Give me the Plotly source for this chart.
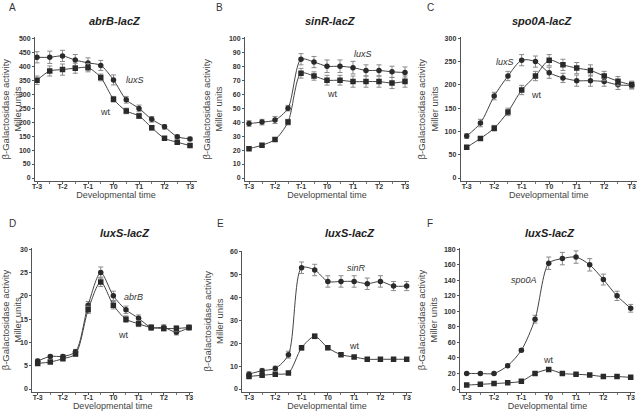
import plotly.graph_objects as go

W, H = 640, 412

time_points = [-3, -2.5, -2, -1.5, -1, -0.5, 0, 0.5, 1, 1.5, 2, 2.5, 3]
tick_vals = [-3, -2, -1, 0, 1, 2, 3]
tick_labels = ["T-3", "T-2", "T-1", "T0", "T1", "T2", "T3"]

# Panel A: abrB-lacZ
a_luxs = [432, 432, 437, 422, 412, 403, 351, 280, 249, 210, 183, 148, 140]
a_luxs_err = [20, 22, 20, 20, 18, 18, 18, 12, 12, 10, 8, 6, 6]
a_wt = [350, 383, 388, 393, 395, 360, 282, 240, 222, 180, 142, 128, 116]
a_wt_err = [15, 18, 20, 18, 15, 12, 10, 10, 8, 8, 6, 5, 5]

# Panel B: sinR-lacZ
b_luxs = [39, 40, 41.5, 50, 85, 83, 80, 80, 79, 77, 77, 76, 75.5]
b_luxs_err = [2, 2, 2.5, 2, 4, 4, 4.5, 4.5, 4.5, 4, 4, 4, 4]
b_wt = [21, 23.5, 27.5, 40, 75, 73, 70, 70, 69, 69, 69, 68, 69]
b_wt_err = [1, 1, 1, 2, 3.5, 3, 3.5, 3.5, 4, 4, 4, 4, 4]

# Panel C: spo0A-lacZ
c_luxs = [90, 118, 176, 219, 253, 250, 226, 215, 209, 209, 207, 200, 199]
c_luxs_err = [5, 8, 8, 10, 12, 12, 12, 10, 12, 12, 10, 10, 8]
c_wt = [66, 85, 107, 142, 189, 219, 253, 243, 236, 231, 219, 208, 200]
c_wt_err = [4, 4, 6, 8, 10, 10, 12, 12, 12, 12, 10, 10, 8]

# Panel D: luxS-lacZ (abrB)
d_abrb = [6.0, 7.0, 7.0, 8.0, 18.0, 25.0, 20.0, 17.0, 15.2, 13.2, 13.2, 12.2, 13.2]
d_abrb_err = [0.4, 0.3, 0.4, 0.5, 0.8, 1.2, 1.0, 0.8, 0.7, 0.6, 0.6, 0.6, 0.5]
d_wt = [5.5, 5.8, 6.5, 7.5, 17.0, 23.0, 18.0, 15.0, 14.0, 13.2, 13.0, 13.0, 13.2]
d_wt_err = [0.3, 0.3, 0.3, 0.4, 0.8, 1.0, 0.8, 0.7, 0.6, 0.5, 0.5, 0.6, 0.5]

# Panel E: luxS-lacZ (sinR)
e_sinr = [6.5, 8, 9, 15, 53, 52, 47, 47, 47, 46, 47, 45, 45]
e_sinr_err = [1, 1, 1, 1.5, 2.5, 2.5, 2.5, 2.5, 2.5, 2.5, 2.5, 2, 2]
e_wt = [5.5, 6, 6.5, 7, 18, 23, 18, 15, 14, 13, 13, 13, 13]
e_wt_err = [0.5, 0.5, 0.5, 0.5, 1, 1, 0.8, 0.6, 0.6, 0.5, 0.5, 0.5, 0.5]

# Panel F: luxS-lacZ (spo0A)
f_spo0a = [20, 20, 20, 30, 50, 90, 162, 168, 170, 160, 141, 120, 104]
f_spo0a_err = [1.5, 1.5, 1.5, 2, 2, 5, 8, 8, 8, 8, 7, 6, 5]
f_wt = [5, 6, 7, 8, 10, 20, 25, 20, 19, 18, 16, 16, 15]
f_wt_err = [1, 1, 1, 1, 1, 1.5, 2, 1.5, 1.5, 1.5, 1.5, 1.5, 1.5]

panels = [
    dict(letter="A", title="abrB-lacZ", mut=a_luxs, mut_err=a_luxs_err, wt=a_wt, wt_err=a_wt_err,
         mut_name="luxS", mut_lab=(0.85, 350), wt_lab=(-0.3, 237),
         ytick=50, ymax=500, yaxis_px=35, xend_px=197, t3m_px=37, t3_px=190,
         y0_px=178, ymax_px=38.3, xaxis_px=181, letter_px=(7, 8), title_px=(115, 21)),
    dict(letter="B", title="sinR-lacZ", mut=b_luxs, mut_err=b_luxs_err, wt=b_wt, wt_err=b_wt_err,
         mut_name="luxS", mut_lab=(1.4, 89), wt_lab=(0.2, 60),
         ytick=10, ymax=100, yaxis_px=245, xend_px=409, t3m_px=249, t3_px=405,
         y0_px=178, ymax_px=38.3, xaxis_px=181, letter_px=(214, 8), title_px=(330, 21)),
    dict(letter="C", title="spo0A-lacZ", mut=c_luxs, mut_err=c_luxs_err, wt=c_wt, wt_err=c_wt_err,
         mut_name="luxS", mut_lab=(-1.62, 250), wt_lab=(-0.45, 178),
         ytick=50, ymax=300, yaxis_px=460.7, xend_px=636.7, t3m_px=466.7, t3_px=631.7,
         y0_px=178, ymax_px=38.3, xaxis_px=181, letter_px=(425, 8), title_px=(542, 21)),
    dict(letter="D", title="luxS-lacZ", mut=d_abrb, mut_err=d_abrb_err, wt=d_wt, wt_err=d_wt_err,
         mut_name="abrB", mut_lab=(0.8, 19.8), wt_lab=(0.4, 11.6),
         ytick=5, ymax=30, yaxis_px=32.3, xend_px=193, t3m_px=37.7, t3_px=189,
         y0_px=389, ymax_px=249.3, xaxis_px=391.7, letter_px=(7, 223), title_px=(125, 233)),
    dict(letter="E", title="luxS-lacZ", mut=e_sinr, mut_err=e_sinr_err, wt=e_wt, wt_err=e_wt_err,
         mut_name="sinR", mut_lab=(1.1, 52.7), wt_lab=(1.0, 18.8),
         ytick=10, ymax=60, yaxis_px=242.3, xend_px=411.7, t3m_px=249, t3_px=406.7,
         y0_px=389, ymax_px=251.7, xaxis_px=391.7, letter_px=(215, 223), title_px=(350, 233)),
    dict(letter="F", title="luxS-lacZ", mut=f_spo0a, mut_err=f_spo0a_err, wt=f_wt, wt_err=f_wt_err,
         mut_name="spo0A", mut_lab=(-0.9, 140), wt_lab=(0.0, 38),
         ytick=20, ymax=180, yaxis_px=460, xend_px=635, t3m_px=466.7, t3_px=630.7,
         y0_px=389, ymax_px=249.3, xaxis_px=391.7, letter_px=(425, 223), title_px=(550, 233)),
]

fig = go.Figure()
DARK = "#2a2a2a"
LINE = "#444444"
ERR = "#8a8a8a"
FONT = "Liberation Sans"
annotations = []
layout_axes = {}

for i, p in enumerate(panels, start=1):
    xa = "x" if i == 1 else f"x{i}"
    ya = "y" if i == 1 else f"y{i}"
    ppu_x = (p["t3_px"] - p["t3m_px"]) / 6.0
    x_lo = -3 - (p["t3m_px"] - p["yaxis_px"]) / ppu_x
    x_hi = 3 + (p["xend_px"] - p["t3_px"]) / ppu_x
    ppu_y = (p["y0_px"] - p["ymax_px"]) / p["ymax"]
    y_lo = -(p["xaxis_px"] - p["y0_px"]) / ppu_y
    ytop_px = p["ymax_px"] - 1
    y_hi = p["ymax"] + (p["ymax_px"] - ytop_px) / ppu_y

    for series, err, sym in [(p["mut"], p["mut_err"], "circle"), (p["wt"], p["wt_err"], "square")]:
        fig.add_trace(go.Scatter(
            x=time_points, y=series, xaxis=xa, yaxis=ya, mode="lines+markers",
            line=dict(color=LINE, width=1, shape="spline", smoothing=0.8),
            marker=dict(symbol=sym, size=5.5, color=DARK),
            error_y=dict(type="data", array=err, visible=True, color=ERR, thickness=1, width=2.5),
            showlegend=False, hoverinfo="skip",
        ))

    key = "" if i == 1 else str(i)
    layout_axes[f"xaxis{key}"] = dict(
        domain=[p["yaxis_px"] / W, p["xend_px"] / W], range=[x_lo, x_hi],
        anchor=ya, showgrid=False, zeroline=False, showline=True, linecolor="#555", linewidth=1,
        tickmode="array", tickvals=tick_vals, ticktext=tick_labels,
        ticks="outside", ticklen=2, tickcolor="#555", ticklabelstandoff=-3,
        minor=dict(tickmode="array", tickvals=[-2.5, -1.5, -0.5, 0.5, 1.5, 2.5], ticks="outside", ticklen=2, tickcolor="#777"),
        tickfont=dict(family=FONT, size=7, color="#333", weight="bold"),
        title=dict(text="Developmental time", font=dict(family=FONT, size=9, color="#444"), standoff=0),
    )
    layout_axes[f"yaxis{key}"] = dict(
        domain=[1 - p["xaxis_px"] / H, 1 - ytop_px / H], range=[y_lo, y_hi],
        anchor=xa, showgrid=False, zeroline=False, showline=True, linecolor="#555", linewidth=1,
        tickmode="linear", tick0=0, dtick=p["ytick"],
        ticks="outside", ticklen=2, tickcolor="#555",
        tickfont=dict(family=FONT, size=7, color="#333", weight="bold"),
        title=dict(text="β-Galactosidase activity<br>Miller units",
                   font=dict(family=FONT, size=9.5, color="#444"), standoff=4),
    )

    annotations.append(dict(x=p["mut_lab"][0], y=p["mut_lab"][1], xref=xa, yref=ya, text=f"<i>{p['mut_name']}</i>",
                            showarrow=False, font=dict(family=FONT, size=9, color="#333")))
    annotations.append(dict(x=p["wt_lab"][0], y=p["wt_lab"][1], xref=xa, yref=ya, text="wt",
                            showarrow=False, font=dict(family=FONT, size=9, color="#333")))
    annotations.append(dict(x=p["letter_px"][0] / W, y=1 - p["letter_px"][1] / H, xref="paper", yref="paper",
                            text=p["letter"], showarrow=False, xanchor="left", yanchor="middle",
                            font=dict(family=FONT, size=10, color="#333")))
    annotations.append(dict(x=p["title_px"][0] / W, y=1 - p["title_px"][1] / H, xref="paper", yref="paper",
                            text=f"<b><i>{p['title']}</i></b>", showarrow=False, xanchor="center", yanchor="middle",
                            font=dict(family=FONT, size=11, color="#222")))

fig.update_layout(
    width=W, height=H, margin=dict(l=0, r=0, t=0, b=0, autoexpand=False),
    paper_bgcolor="white", plot_bgcolor="white",
    annotations=annotations, **layout_axes,
)

fig.write_html("out.html", config={"displayModeBar": False},
               post_script="document.body.style.margin='0';document.body.style.padding='0';document.body.style.overflow='hidden';")
